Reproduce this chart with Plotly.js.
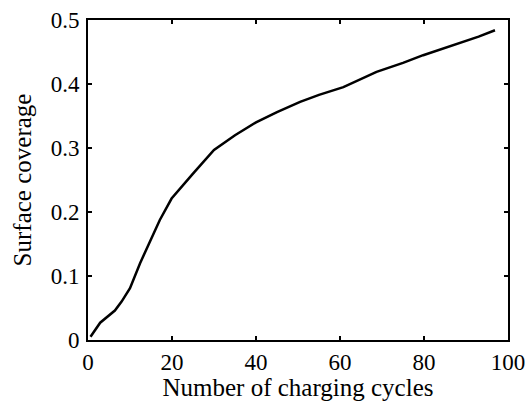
<!DOCTYPE html>
<html>
<head>
<meta charset="utf-8">
<script src="https://cdn.plot.ly/plotly-3.0.1.min.js"></script>
<style>html,body{margin:0;padding:0;background:#fff;}#chart{width:529px;height:401px;}</style>
</head>
<body>
<div id="chart"></div>
<script>
const cycles = [0.6, 2.9, 6.4, 8.0, 10, 12.4, 17.1, 19.9, 25, 30, 35, 40, 45, 50.5, 55, 60.8, 68.7, 75, 79.8, 85, 89.8, 93, 96.9];
const coverage = [0.005, 0.027, 0.046, 0.060, 0.081, 0.12, 0.1875, 0.221, 0.26, 0.297, 0.32, 0.34, 0.356, 0.372, 0.383, 0.395, 0.419, 0.433, 0.445, 0.456, 0.466, 0.474, 0.484];
const xTicks = [0, 20, 40, 60, 80, 100];
const xTickText = ["0", "20", "40", "60", "80", "100"];
const yTicks = [0, 0.1, 0.2, 0.3, 0.4, 0.5];
const yTickText = ["0", "0.1", "0.2", "0.3", "0.4", "0.5"];

const tickFont = {family: "Liberation Serif, Times New Roman, serif", size: 23, color: "#000"};
const titleFont = {family: "Liberation Serif, Times New Roman, serif", size: 25, color: "#000"};
const data = [{
  x: cycles, y: coverage, type: "scatter", mode: "lines",
  line: {color: "#000", width: 2.5, shape: "linear"}, hoverinfo: "skip"
}];
const axisCommon = {
  showgrid: false, zeroline: false, showline: true, linecolor: "#000", linewidth: 2,
  mirror: "allticks", ticks: "inside", ticklen: 4, tickwidth: 2, tickcolor: "#000",
  tickfont: tickFont
};
const layout = {
  width: 529, height: 401,
  margin: {l: 88, r: 21, t: 20, b: 61},
  paper_bgcolor: "#fff", plot_bgcolor: "#fff",
  showlegend: false,
  xaxis: Object.assign({}, axisCommon, {
    range: [0, 100], tickvals: xTicks, ticktext: xTickText, ticklabelstandoff: 0,
    title: {text: "Number of charging cycles", font: titleFont, standoff: 6}
  }),
  yaxis: Object.assign({}, axisCommon, {
    range: [0, 0.5], tickvals: yTicks, ticktext: yTickText, ticklabelstandoff: 2,
    title: {text: "Surface coverage", font: titleFont, standoff: 12}
  })
};
Plotly.newPlot("chart", data, layout, {staticPlot: true, displayModeBar: false});
</script>
</body>
</html>
